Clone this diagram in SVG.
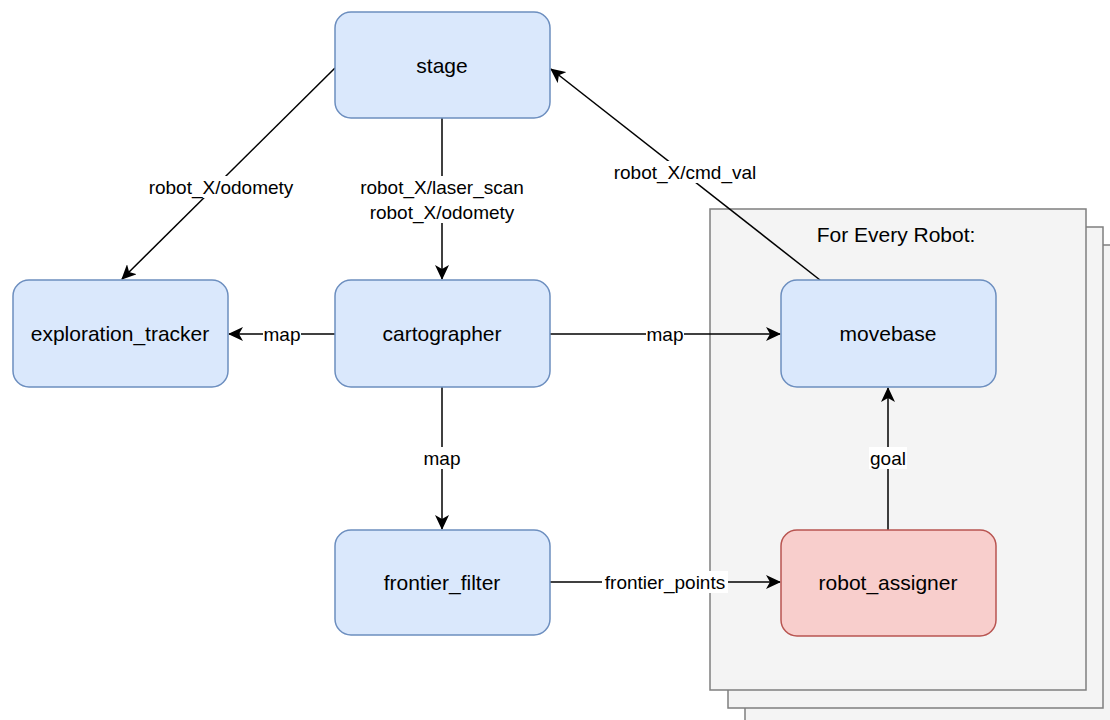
<svg xmlns="http://www.w3.org/2000/svg" width="1110" height="720" viewBox="0 0 1110 720">
<style>
.node rect{stroke-width:1.5}
.blue{fill:#dae8fc;stroke:#6c8ebf}
.red{fill:#f8cecc;stroke:#b85450}
.stack{fill:#f4f4f4;stroke:#7f7f7f;stroke-width:1.5}
.nt{font-family:"Liberation Sans",Arial,sans-serif;font-size:21px;fill:#000;text-anchor:middle;dominant-baseline:central}
.el{font-family:"Liberation Sans",Arial,sans-serif;font-size:19px;fill:#000;text-anchor:middle;dominant-baseline:central}
.edge{fill:none;stroke:#000;stroke-width:1.5}
.lbg{fill:#fff}
</style>
<defs>
<marker id="arr" markerWidth="16" markerHeight="14" refX="14" refY="7" orient="auto" markerUnits="userSpaceOnUse">
<path d="M0,0 L15,7 L0,14 L4,7 Z" fill="#000"/>
</marker>
</defs>
<g id="robot-stack">
<rect class="stack" x="745" y="245" width="375" height="490"/>
<rect class="stack" x="728" y="227" width="375" height="481"/>
<rect class="stack" x="710" y="209" width="376" height="481"/>
<text class="nt" x="896" y="234">For Every Robot:</text>
</g>
<g id="connectors">
<line class="edge" x1="335" y1="68" x2="122" y2="279" marker-end="url(#arr)"/>
<line class="edge" x1="442" y1="118" x2="442" y2="279" marker-end="url(#arr)"/>
<line class="edge" x1="820" y1="280" x2="551" y2="69" marker-end="url(#arr)"/>
<line class="edge" x1="335" y1="334" x2="229" y2="334" marker-end="url(#arr)"/>
<line class="edge" x1="550" y1="334" x2="780" y2="334" marker-end="url(#arr)"/>
<line class="edge" x1="442" y1="387" x2="442" y2="529" marker-end="url(#arr)"/>
<line class="edge" x1="550" y1="582" x2="780" y2="582" marker-end="url(#arr)"/>
<line class="edge" x1="888" y1="530" x2="888" y2="388" marker-end="url(#arr)"/>
<rect class="lbg" x="145" y="176" width="152" height="22"/>
<text class="el" x="221" y="187">robot_X/odomety</text>
<rect class="lbg" x="356" y="176" width="172" height="47"/>
<text class="el" x="442" y="187">robot_X/laser_scan</text>
<text class="el" x="442" y="212">robot_X/odomety</text>
<rect class="lbg" x="611" y="161" width="149" height="22"/>
<text class="el" x="685" y="172">robot_X/cmd_val</text>
<rect class="lbg" x="263" y="323" width="38" height="22"/>
<text class="el" x="282" y="334">map</text>
<rect class="lbg" x="646" y="323" width="38" height="22"/>
<text class="el" x="665" y="334">map</text>
<rect class="lbg" x="423" y="447" width="38" height="22"/>
<text class="el" x="442" y="458">map</text>
<rect class="lbg" x="602" y="571" width="126" height="22"/>
<text class="el" x="665" y="582">frontier_points</text>
<rect class="lbg" x="869" y="447" width="38" height="22"/>
<text class="el" x="888" y="458">goal</text>
</g>
<g id="stage" class="node">
<rect class="blue" x="335" y="12" width="215" height="106" rx="16"/>
<text class="nt" x="442" y="65">stage</text>
</g>
<g id="exploration_tracker" class="node">
<rect class="blue" x="13" y="280" width="215" height="107" rx="16"/>
<text class="nt" x="120" y="333">exploration_tracker</text>
</g>
<g id="cartographer" class="node">
<rect class="blue" x="335" y="280" width="215" height="107" rx="16"/>
<text class="nt" x="442" y="333">cartographer</text>
</g>
<g id="frontier_filter" class="node">
<rect class="blue" x="335" y="530" width="215" height="105" rx="16"/>
<text class="nt" x="442" y="582">frontier_filter</text>
</g>
<g id="movebase" class="node">
<rect class="blue" x="781" y="280" width="215" height="107" rx="16"/>
<text class="nt" x="888" y="333">movebase</text>
</g>
<g id="robot_assigner" class="node">
<rect class="red" x="781" y="530" width="215" height="106" rx="16"/>
<text class="nt" x="888" y="582">robot_assigner</text>
</g>
</svg>
